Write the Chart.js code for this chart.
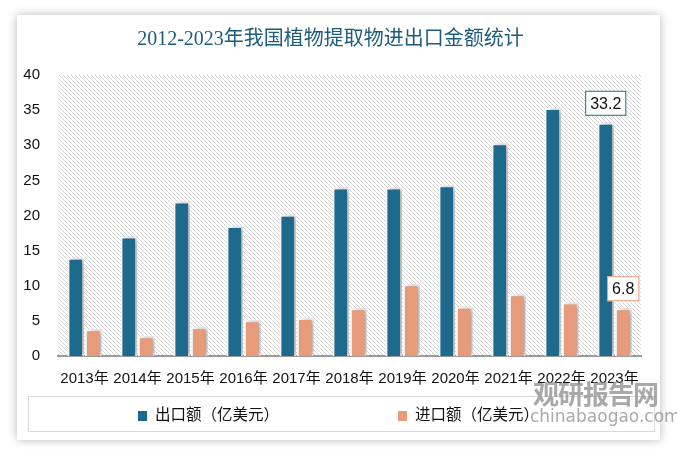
<!DOCTYPE html>
<html>
<head>
<meta charset="utf-8">
<script src="https://cdn.jsdelivr.net/npm/chart.js@4.4.1/dist/chart.umd.min.js"></script>
<style>
  body { margin: 0; width: 677px; height: 457px; overflow: hidden; position: relative; background: #fff;
         font-family: "Liberation Sans", "Noto Sans CJK SC", sans-serif; }
  .card { position: absolute; left: 17px; top: 15px; width: 643px; height: 425px; background: #fff;
          box-shadow: 0 0 9px rgba(0, 0, 0, 0.28); }
  #chart { position: absolute; left: 0; top: 0; }
  .legend { position: absolute; left: 28px; top: 396px; width: 625px; height: 34px; border: 1px solid #d9d9d9; }
  .legend .item { position: absolute; top: 6px; font-size: 15.5px; color: #111; font-family: "Noto Sans CJK SC", sans-serif; line-height: 20px; }
  .legend .sw { display: inline-block; width: 9px; height: 10px; margin-right: 8px; vertical-align: -1px; }
  .wm { position: absolute; color: rgba(140, 140, 140, 0.75); font-family: "Noto Sans CJK SC", sans-serif; }
</style>
</head>
<body>
<div class="card"></div>
<canvas id="chart" width="677" height="457"></canvas>
<div class="legend">
  <div class="item" style="left:109px"><span class="sw" style="background:#1e6a8d"></span>出口额（亿美元）</div>
  <div class="item" style="left:369px"><span class="sw" style="background:#e69b7b"></span>进口额（亿美元）</div>
</div>
<div class="wm" style="left:533px;top:374px;font-size:26px;font-weight:bold;letter-spacing:-1px">观研报告网</div>
<div class="wm" style="left:530px;top:406px;font-size:17px;font-family:'DejaVu Sans',sans-serif">chinabaogao.com</div>
<script>
const years = ['2013年', '2014年', '2015年', '2016年', '2017年', '2018年', '2019年', '2020年', '2021年', '2022年', '2023年'];
const exportValues = [14.0, 17.0, 22.0, 18.5, 20.1, 24.0, 24.0, 24.3, 30.3, 35.3, 33.2];
const importValues = [3.8, 2.8, 4.1, 5.1, 5.4, 6.8, 10.2, 7.0, 8.8, 7.6, 6.8];
const yTicks = [0, 5, 10, 15, 20, 25, 30, 35, 40];

const exportColor = '#1e6a8d';
const importColor = '#e69b7b';

// diagonal hatch behind the plot
const hatchPlugin = {
  id: 'hatch',
  beforeDraw(chart) {
    const { ctx, chartArea } = chart;
    const p = document.createElement('canvas');
    p.width = 4; p.height = 4;
    const pc = p.getContext('2d');
    pc.strokeStyle = '#d4d4d4';
    pc.lineWidth = 1;
    pc.beginPath();
    pc.moveTo(0, 0); pc.lineTo(4, 4);
    pc.moveTo(-1, 3); pc.lineTo(1, 5);
    pc.moveTo(3, -1); pc.lineTo(5, 1);
    pc.stroke();
    ctx.save();
    ctx.fillStyle = ctx.createPattern(p, 'repeat');
    ctx.fillRect(chartArea.left, chartArea.top, chartArea.right - chartArea.left, chartArea.bottom - chartArea.top);
    ctx.restore();
  }
};

const shadowPlugin = {
  id: 'barShadow',
  beforeDatasetsDraw(chart) {
    const ctx = chart.ctx;
    ctx.save();
    ctx.shadowColor = 'rgba(0, 0, 0, 0.35)';
    ctx.shadowBlur = 6;
    ctx.shadowOffsetX = 3;
    ctx.shadowOffsetY = 0;
  },
  afterDatasetsDraw(chart) {
    chart.ctx.restore();
  }
};

// boxed value on the last bar of each series
const lastLabelPlugin = {
  id: 'lastLabel',
  afterDatasetsDraw(chart) {
    const ctx = chart.ctx;
    chart.data.datasets.forEach((ds, i) => {
      const meta = chart.getDatasetMeta(i);
      const idx = ds.data.length - 1;
      const bar = meta.data[idx];
      const text = ds.data[idx].toFixed(1);
      ctx.save();
      ctx.font = '16px "Liberation Sans", sans-serif';
      const w = ctx.measureText(text).width + 10;
      const h = 25;
      const x = bar.x - w / 2;
      const y = bar.y - 7 - h;
      ctx.fillStyle = '#fff';
      ctx.fillRect(x, y, w, h);
      ctx.strokeStyle = ds.backgroundColor;
      ctx.lineWidth = 1;
      ctx.strokeRect(x + 0.5, y + 0.5, w - 1, h - 1);
      ctx.fillStyle = '#111';
      ctx.textAlign = 'center';
      ctx.textBaseline = 'middle';
      ctx.fillText(text, bar.x, y + h / 2 + 1);
      ctx.restore();
    });
  }
};

new Chart(document.getElementById('chart'), {
  type: 'bar',
  data: {
    labels: years,
    datasets: [
      { label: '出口额（亿美元）', data: exportValues, backgroundColor: exportColor, borderColor: '#fff', borderWidth: 2, borderSkipped: 'bottom' },
      { label: '进口额（亿美元）', data: importValues, backgroundColor: importColor, borderColor: '#fff', borderWidth: 2, borderSkipped: 'bottom' }
    ]
  },
  options: {
    responsive: false,
    animation: false,
    categoryPercentage: 0.66,
    barPercentage: 0.95,
    layout: { padding: { left: 20, right: 36, top: 0, bottom: 71 } },
    plugins: {
      legend: { display: false },
      tooltip: { enabled: false },
      title: {
        display: true,
        text: '2012-2023年我国植物提取物进出口金额统计',
        color: '#1d5b7b',
        font: { family: '"Liberation Serif", "Noto Sans CJK SC", serif', size: 20, weight: 'normal' },
        padding: { top: 28, bottom: 23 }
      }
    },
    scales: {
      x: {
        grid: { display: false },
        border: { color: '#9a9a9a', width: 2 },
        ticks: {
          color: '#111', autoSkip: false, maxRotation: 0, minRotation: 0, padding: 6,
          font: { family: '"Liberation Sans", "Noto Sans CJK SC", sans-serif', size: 15 }
        },
        afterFit(scale) { scale.height = 30; }
      },
      y: {
        min: 0, max: 40,
        grid: { display: false },
        border: { display: false },
        afterBuildTicks(scale) { scale.ticks = yTicks.map(v => ({ value: v })); },
        ticks: {
          color: '#111', padding: 10,
          font: { family: '"Liberation Sans", sans-serif', size: 15 }
        },
        afterFit(scale) { scale.width = 38; }
      }
    }
  },
  plugins: [hatchPlugin, shadowPlugin, lastLabelPlugin]
});
</script>
</body>
</html>
